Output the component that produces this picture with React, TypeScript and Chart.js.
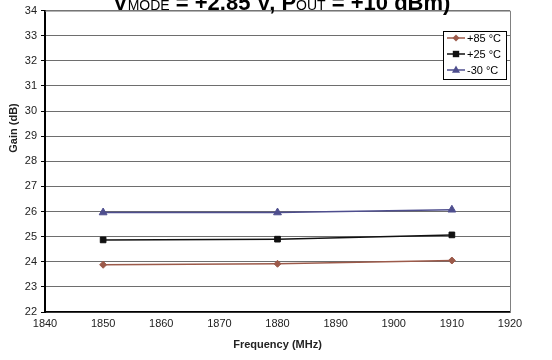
import React, { useEffect, useRef } from "react";
import { Chart, registerables } from "chart.js";

Chart.register(...registerables);

const frequencies = [1850, 1880, 1910];
const gain85 = [23.88, 23.92, 24.05];
const gain25 = [24.87, 24.9, 25.07];
const gainM30 = [25.96, 25.96, 26.07];
const seriesLabels = ["+85 °C", "+25 °C", "-30 °C"];
const seriesColors = ["#9C5A4A", "#111111", "#4E4E8E"];
const seriesMarkers = ["rectRot", "rect", "triangle"];
const markerRadii = [3.5, 4, 4.5];
const xTicksMin = 1840;
const xTicksMax = 1920;
const yTicksMin = 22;
const yTicksMax = 34;

const FONT = "Arial, 'Liberation Sans', sans-serif";

const titlePlugin = {
  id: "cutTitle",
  afterDraw(chart: any) {
    const ctx = chart.ctx;
    ctx.save();
    ctx.fillStyle = "#000";
    ctx.textBaseline = "alphabetic";
    ctx.textAlign = "left";
    const parts: [string, string][] = [
      ["V", `bold 22px ${FONT}`],
      ["MODE", `14px ${FONT}`],
      [" = +2.85 V, P", `bold 22px ${FONT}`],
      ["OUT", `14px ${FONT}`],
      [" = +10 dBm)", `bold 22px ${FONT}`],
    ];
    let x = 113;
    const y = 10;
    for (const [t, f] of parts) {
      ctx.font = f;
      ctx.fillText(t, x, y);
      x += ctx.measureText(t).width;
    }
    // y axis title
    ctx.save();
    ctx.translate(14, 128);
    ctx.rotate(-Math.PI / 2);
    ctx.textAlign = "center";
    ctx.textBaseline = "middle";
    ctx.font = `bold 11px ${FONT}`;
    ctx.fillStyle = "#222";
    ctx.fillText("Gain (dB)", 0, 0);
    ctx.restore();
    ctx.restore();
  },
};

function drawMarker(ctx: CanvasRenderingContext2D, style: string, x: number, y: number, r: number) {
  ctx.beginPath();
  if (style === "rect") {
    ctx.rect(x - r * 0.8, y - r * 0.8, r * 1.6, r * 1.6);
  } else if (style === "rectRot") {
    ctx.moveTo(x, y - r);
    ctx.lineTo(x + r, y);
    ctx.lineTo(x, y + r);
    ctx.lineTo(x - r, y);
    ctx.closePath();
  } else {
    ctx.moveTo(x, y - r);
    ctx.lineTo(x + r * 0.9, y + r * 0.6);
    ctx.lineTo(x - r * 0.9, y + r * 0.6);
    ctx.closePath();
  }
  ctx.fill();
}

const legendPlugin = {
  id: "boxLegend",
  afterDraw(chart: any) {
    const ctx = chart.ctx;
    ctx.save();
    const bx = 443, by = 31, bw = 63, bh = 48;
    ctx.fillStyle = "#fff";
    ctx.fillRect(bx, by, bw, bh);
    ctx.strokeStyle = "#000";
    ctx.lineWidth = 1;
    ctx.strokeRect(bx + 0.5, by + 0.5, bw, bh);
    ctx.font = `11px ${FONT}`;
    ctx.textBaseline = "middle";
    ctx.textAlign = "left";
    const rows = [38, 54, 70];
    chart.data.datasets.forEach((ds: any, i: number) => {
      const y = rows[i];
      ctx.strokeStyle = ds.borderColor;
      ctx.lineWidth = 1.5;
      ctx.beginPath();
      ctx.moveTo(447, y);
      ctx.lineTo(465, y);
      ctx.stroke();
      ctx.fillStyle = ds.pointBackgroundColor;
      drawMarker(ctx, ds.pointStyle, 456, y, ds.pointRadius);
      ctx.fillStyle = "#000";
      ctx.fillText(ds.label, 467, y + 0.5);
    });
    ctx.restore();
  },
};

const frameTopRight = {
  id: "frameTopRight",
  beforeDatasetsDraw(chart: any) {
    const { ctx, chartArea } = chart;
    ctx.save();
    ctx.strokeStyle = "#808080";
    ctx.lineWidth = 1;
    ctx.beginPath();
    ctx.moveTo(chartArea.left, chartArea.top + 0.5);
    ctx.lineTo(chartArea.right + 0.5, chartArea.top + 0.5);
    ctx.lineTo(chartArea.right + 0.5, chartArea.bottom);
    ctx.stroke();
    ctx.restore();
  },
};

export default function App() {
  const ref = useRef<HTMLCanvasElement>(null);
  useEffect(() => {
    if (!ref.current) return;
    const allSeries = [gain85, gain25, gainM30];
    const chart = new Chart(ref.current, {
      type: "scatter",
      data: {
        datasets: allSeries.map((vals, i) => ({
          label: seriesLabels[i],
          data: frequencies.map((f, j) => ({ x: f, y: vals[j] })),
          showLine: true,
          borderColor: seriesColors[i],
          backgroundColor: seriesColors[i],
          pointBackgroundColor: seriesColors[i],
          pointBorderColor: seriesColors[i],
          pointStyle: seriesMarkers[i] as any,
          pointRadius: markerRadii[i],
          borderWidth: 1.5,
          pointBorderWidth: 1,
        })),
      },
      options: {
        animation: false,
        responsive: false,
        maintainAspectRatio: false,
        layout: { padding: { top: 9, right: 42, left: 0, bottom: 0 } },
        plugins: { legend: { display: false }, tooltip: { enabled: false }, title: { display: false } },
        scales: {
          x: {
            type: "linear",
            min: xTicksMin,
            max: xTicksMax,
            ticks: {
              stepSize: 10,
              color: "#222",
              font: { family: FONT, size: 11 },
              padding: 1,
              maxRotation: 0,
              callback: (v: any) => String(v),
            },
            grid: { display: false, drawTicks: true, tickLength: 4, tickColor: "#000" } as any,
            border: { color: "#000", width: 1.5 },
            title: {
              display: true,
              text: "Frequency (MHz)",
              color: "#222",
              font: { family: FONT, size: 11, weight: "bold" },
              padding: { top: 4, bottom: 8 },
            },
            afterFit(scale: any) {
              scale.height = 48;
            },
          },
          y: {
            type: "linear",
            min: yTicksMin,
            max: yTicksMax,
            ticks: { stepSize: 1, color: "#222", font: { family: FONT, size: 11 }, padding: 4 },
            grid: { color: "#6e6e6e", lineWidth: 1, tickLength: 4, tickColor: "#000" },
            border: { color: "#000", width: 2 },
            title: { display: false },
            afterFit(scale: any) {
              scale.width = 45;
            },
          },
        },
      },
      plugins: [frameTopRight, titlePlugin, legendPlugin],
    });
    return () => chart.destroy();
  }, []);
  return (
    <div style={{ position: "absolute", left: 0, top: 0, width: 552, height: 360, background: "#fff" }}>
      <canvas ref={ref} width={552} height={360} style={{ width: 552, height: 360 }} />
    </div>
  );
}
